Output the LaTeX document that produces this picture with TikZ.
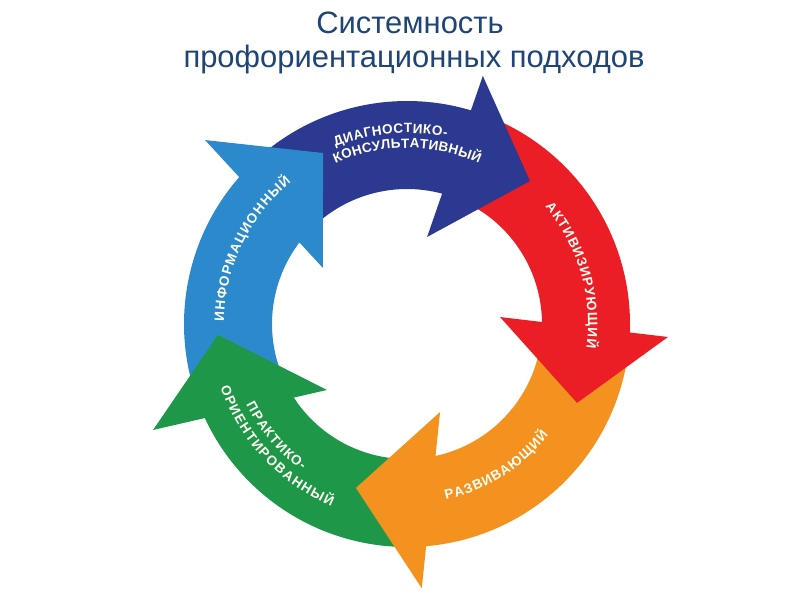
\documentclass[tikz,border=0pt]{standalone}
\usepackage{fontspec}
\setmainfont{Liberation Sans}
\usetikzlibrary{decorations.text}

\definecolor{titleblue}{RGB}{31,68,118}
\definecolor{infoblue}{RGB}{44,138,204}
\definecolor{diagblue}{RGB}{43,57,144}
\definecolor{activred}{RGB}{235,30,38}
\definecolor{devorange}{RGB}{244,146,32}
\definecolor{practgreen}{RGB}{30,152,72}

\newcommand{\ringout}{223}
\newcommand{\ringin}{135}
\newcommand{\lblfont}{\fontsize{9.6}{12}\selectfont\bfseries}

\begin{document}
\begin{tikzpicture}[x=0.025cm, y=0.025cm,
  title/.style={anchor=base, text=titleblue, inner sep=0pt,
    font=\fontsize{22}{26}\selectfont},
  lbl/.style={decorate, decoration={text along path,
    text align=fit to path, text color=white!96!yellow}}]
  \useasboundingbox (-407,-276) rectangle (393,324);

  % Title
  \node[title] (heading) at (3,291) {Системность};
  \node[title] (subheading) at (7,257) {профориентационных подходов};

  % Bands of the ring (tails lie under the previous head)
  \fill[infoblue] (197:\ringout) arc[start angle=197, end angle=136.8, radius=\ringout]
    -- (140.8:\ringin) arc[start angle=140.8, end angle=203, radius=\ringin] -- cycle;
  \fill[diagblue] (135:\ringout) arc[start angle=135, end angle=71.3, radius=\ringout]
    -- (72.9:\ringin) arc[start angle=72.9, end angle=135, radius=\ringin] -- cycle;
  \fill[activred] (68:\ringout) arc[start angle=68, end angle=-4.2, radius=\ringout]
    -- (-1.2:\ringin) arc[start angle=-1.2, end angle=66, radius=\ringin] -- cycle;
  \fill[devorange] (-6:\ringout) arc[start angle=-6, end angle=-86.9, radius=\ringout]
    -- (-79.8:\ringin) arc[start angle=-79.8, end angle=-5, radius=\ringin] -- cycle;
  \fill[practgreen] (-89:\ringout) arc[start angle=-89, end angle=-157, radius=\ringout]
    -- (-149:\ringin) arc[start angle=-149, end angle=-88, radius=\ringin] -- cycle;

  % Heads
  \fill[infoblue] (137.67:273.2) -- (116.16:190.5) -- (146.31:101) -- cycle;
  \fill[diagblue] (73:259.4) -- (49.3:188.6) -- (77:89.3) -- cycle;
  \fill[activred] (-2.85:261.3) -- (-24.9:187.5) -- (4.3:93.3) -- cycle;
  \fill[devorange] (-86.8:264.7) -- (-107.3:171.7) -- (-69.4:94) -- cycle;
  \fill[practgreen] (-157.35:275.2) -- (-176.7:189.3) -- (-140.5:103.7) -- cycle;

  % Labels
  \path[lbl, decoration={text={|\lblfont|ИНФОРМАЦИОННЫЙ}}]
    (179.3:183) arc[start angle=179.3, end angle=129.2, radius=183];
  \path[lbl, decoration={text={|\lblfont|ДИАГНОСТИКО-}}]
    (112:191) arc[start angle=112, end angle=78, radius=191];
  \path[lbl, decoration={text={|\lblfont|КОНСУЛЬТАТИВНЫЙ}}]
    (114:176) arc[start angle=114, end angle=65.8, radius=176];
  \path[lbl, decoration={text={|\lblfont|АКТИВИЗИРУЮЩИЙ}}]
    (40.3:181) arc[start angle=40.3, end angle=-7.6, radius=181];
  \path[lbl, decoration={text={|\lblfont|РАЗВИВАЮЩИЙ}}]
    (-77.5:180) arc[start angle=-77.5, end angle=-38.2, radius=180];
  \path[lbl, decoration={text={|\lblfont|ПРАКТИКО-}}]
    (-153.3:180) arc[start angle=-153.3, end angle=-125.6, radius=180];
  \path[lbl, decoration={text={|\lblfont|ОРИЕНТИРОВАННЫЙ}}]
    (-161.3:197) arc[start angle=-161.3, end angle=-112.5, radius=197];
\end{tikzpicture}
\end{document}
